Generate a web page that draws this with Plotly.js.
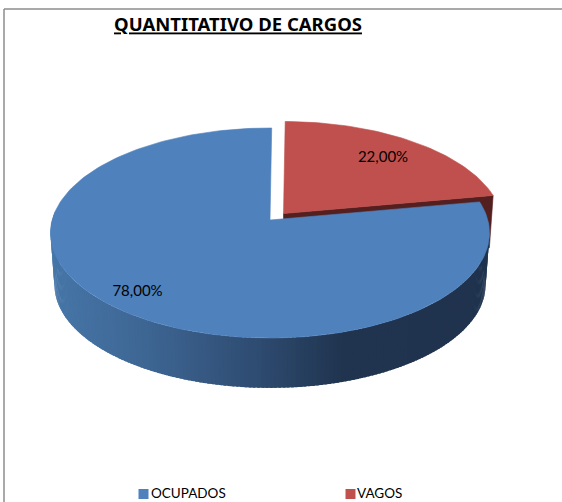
<!DOCTYPE html>
<html>
<head>
<meta charset="utf-8">
<script src="https://cdn.plot.ly/plotly-3.0.1.min.js"></script>
<style>html,body{margin:0;padding:0;background:#fff;overflow:hidden}#chart{width:562px;height:502px}</style>
</head>
<body>
<div id="chart"></div>
<script>
const categories = ["OCUPADOS", "VAGOS"];
const values = [78, 22];
const colors = ["#4F81BD", "#C0504D"];
const chartTitle = "QUANTITATIVO DE CARGOS";

// Projection of the tilted disc onto the page
const geo = {xc:270, yc:220, A:217.8, B:103.4, k:0.1238, wallScale:0.982, wallYc:272,
             redDx:13.5, redDy:-6.5, rot:0.5};
const rad = d => d*Math.PI/180;
function proj(theta, scale, xc, yc){
  const u = Math.sin(rad(theta)), v = Math.cos(rad(theta)), w = 1 + geo.k*v;
  return [xc + scale*geo.A*u/w, yc - scale*geo.B*v/w];
}
function arc(a0, a1, scale, xc, yc){
  const n = Math.max(2, Math.ceil(Math.abs(a1-a0)/1.5)), out = [];
  for(let i=0;i<=n;i++) out.push(proj(a0+(a1-a0)*i/n, scale, xc, yc));
  return out;
}
const total = values.reduce((a,b)=>a+b,0);
const redSpan = values[1]/total*360;
const redA0 = geo.rot, redA1 = geo.rot + redSpan;
const blueA0 = redA1, blueA1 = geo.rot + 360;

function poly(pts, fill, name, lw){
  const xs = pts.map(p=>p[0]).concat(pts[0][0]);
  const ys = pts.map(p=>p[1]).concat(pts[0][1]);
  return {type:"scatter", mode:"lines", x:xs, y:ys, fill:"toself", fillcolor:fill,
          line:{color:fill, width:lw===undefined?0.6:lw}, hoverinfo:"skip", showlegend:false, name:name||""};
}
const stops = [[54,[70,118,168]],[150,[61,101,146]],[250,[47,77,115]],[340,[32,52,79]],[600,[31,50,77]]];
function shade(x){
  if(x<=stops[0][0]) return "rgb("+stops[0][1].join(",")+")";
  for(let i=1;i<stops.length;i++){
    if(x<=stops[i][0]){
      const t=(x-stops[i-1][0])/(stops[i][0]-stops[i-1][0]);
      const c=stops[i-1][1].map((a,j)=>Math.round(a+(stops[i][1][j]-a)*t));
      return "rgb("+c.join(",")+")";
    }
  }
  return "rgb(31,50,77)";
}

const traces = [];
// red slice: inner cut face and outer wall, then top
const rx = geo.xc+geo.redDx, ry = geo.yc+geo.redDy, rwy = geo.wallYc+geo.redDy;
const rEnd = proj(redA1,1,rx,ry), rEndLow = proj(redA1,geo.wallScale,rx,rwy);
traces.push(poly([[rx,ry],rEnd,rEndLow,[rx,rwy]],"#541F1F"));
traces.push(poly([[rx,ry]].concat(arc(redA0,redA1,1,rx,ry)),colors[1],categories[1]));
// blue wall strips, painted left to right so each covers the previous seam
const step = 1;
for(let a=275;a>85;a-=step){
  const t0=proj(a,1,geo.xc,geo.yc), t1=proj(a-step*1.6,1,geo.xc,geo.yc);
  const b0=proj(a,geo.wallScale,geo.xc,geo.wallYc), b1=proj(a-step*1.6,geo.wallScale,geo.xc,geo.wallYc);
  traces.push(poly([t0,t1,b1,b0],shade(b0[0]),"",0));
}
// blue top
traces.push(poly([[geo.xc,geo.yc]].concat(arc(blueA0,blueA1,1,geo.xc,geo.yc)),colors[0],categories[0]));

const fmt = v => v.toFixed(2).replace(".",",")+"%";
const labelX = [137.5, 383], labelY = [292.5, 158.5];
traces.push({type:"scatter",mode:"text",x:labelX,y:labelY,text:values.map(fmt),
  textposition:"middle center",textfont:{family:"Lato",size:15,color:"#000"},hoverinfo:"skip",showlegend:false});
// legend
const legendX = [143.5, 350.5], legendY = [494, 494];
traces.push({type:"scatter",mode:"markers",x:legendX,y:legendY,
  marker:{symbol:"square",size:10,color:colors},hoverinfo:"skip",showlegend:false});
const legendTextX = [151, 357];
const legendTextY = [495, 495];
traces.push({type:"scatter",mode:"text",x:legendTextX,y:legendTextY,text:categories,
  textposition:"middle right",textfont:{family:"Lato",size:13.5,color:"#000"},hoverinfo:"skip",showlegend:false});

const layout = {
  width:562,height:502,margin:{l:0,r:0,t:0,b:0},paper_bgcolor:"#fff",plot_bgcolor:"#fff",showlegend:false,
  title:{text:"<b><u>"+chartTitle+"</u></b>",x:238/562,xanchor:"center",y:1-25/502,yanchor:"middle",
         font:{family:"'Noto Sans'",size:18.5,color:"#000"}},
  xaxis:{range:[0,562],visible:false,fixedrange:true},
  yaxis:{range:[502,0],visible:false,fixedrange:true},
  shapes:[
    {type:"line",xref:"paper",yref:"paper",x0:4/562,x1:4/562,y0:0,y1:1-9/502,line:{color:"#8c8c8c",width:1.5}},
    {type:"line",xref:"paper",yref:"paper",x0:4/562,x1:1,y0:1-9/502,y1:1-9/502,line:{color:"#8c8c8c",width:1.5}}
  ]
};
Plotly.newPlot("chart",traces,layout,{displayModeBar:false,staticPlot:true});
</script>
</body>
</html>
